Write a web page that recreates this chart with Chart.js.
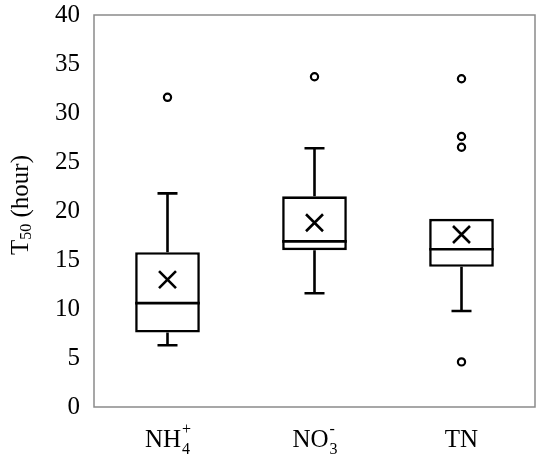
<!DOCTYPE html>
<html>
<head>
<meta charset="utf-8">
<script src="https://cdn.jsdelivr.net/npm/chart.js@4"></script>
<style>
html,body{margin:0;padding:0;background:#fff;}
#wrap{width:550px;height:466px;}
</style>
</head>
<body>
<div id="wrap"><canvas id="c" width="550" height="466"></canvas></div>
<script>
const categories = ['NH4+', 'NO3-', 'TN'];
const labelBase = ['NH', 'NO', 'TN'];
const labelSub = ['4', '3', ''];
const labelSup = ['+', '-', ''];
const whiskerLow = [6.3, 11.6, 9.8];
const q1 = [7.6, 16.0, 14.3];
const median = [10.6, 16.9, 16.1];
const q3 = [15.8, 21.5, 19.2];
const whiskerHigh = [21.8, 26.4, 19.2];
const means = [13.0, 18.8, 17.6];
const outliers = [[31.6], [33.7], [33.5, 27.6, 26.5, 4.6]];
const yTicks = [0, 5, 10, 15, 20, 25, 30, 35, 40];

const FONT = '"Liberation Serif", "Times New Roman", serif';
const LW = 2.6;

const boxData = categories.map((c, i) => [q1[i], q3[i]]);
const meanData = categories.map((c, i) => ({x: c, y: means[i]}));
const outlierData = [];
outliers.forEach((arr, i) => arr.forEach(v => outlierData.push({x: categories[i], y: v})));

const boxPlugin = {
  id: 'boxParts',
  beforeDatasetsDraw(chart) {
    const {ctx, scales: {x, y}} = chart;
    ctx.save();
    ctx.strokeStyle = '#000';
    ctx.lineWidth = LW;
    ctx.lineCap = 'butt';
    categories.forEach((c, i) => {
      const cx = x.getPixelForValue(i);
      const capHalf = 10;
      ctx.beginPath();
      ctx.moveTo(cx, y.getPixelForValue(q1[i]));
      ctx.lineTo(cx, y.getPixelForValue(whiskerLow[i]));
      ctx.moveTo(cx - capHalf, y.getPixelForValue(whiskerLow[i]));
      ctx.lineTo(cx + capHalf, y.getPixelForValue(whiskerLow[i]));
      ctx.stroke();
      if (whiskerHigh[i] > q3[i]) {
        ctx.beginPath();
        ctx.moveTo(cx, y.getPixelForValue(q3[i]));
        ctx.lineTo(cx, y.getPixelForValue(whiskerHigh[i]));
        ctx.moveTo(cx - capHalf, y.getPixelForValue(whiskerHigh[i]));
        ctx.lineTo(cx + capHalf, y.getPixelForValue(whiskerHigh[i]));
        ctx.stroke();
      }
    });
    ctx.restore();
  },
  afterDatasetDraw(chart, args) {
    if (args.index !== 0) return;
    const {ctx, scales: {y}} = chart;
    const meta = chart.getDatasetMeta(0);
    ctx.save();
    ctx.strokeStyle = '#000';
    ctx.lineWidth = LW;
    meta.data.forEach((bar, i) => {
      const half = bar.width / 2;
      const my = y.getPixelForValue(median[i]);
      ctx.beginPath();
      ctx.moveTo(bar.x - half, my);
      ctx.lineTo(bar.x + half, my);
      ctx.stroke();
    });
    ctx.restore();
  },
  afterDraw(chart) {
    const {ctx, chartArea: a, scales: {x}} = chart;
    ctx.save();
    ctx.strokeStyle = '#8a8a8a';
    ctx.lineWidth = 1.5;
    ctx.strokeRect(a.left, a.top, a.right - a.left, a.bottom - a.top);
    ctx.fillStyle = '#000';
    ctx.textBaseline = 'alphabetic';
    categories.forEach((c, i) => {
      const cx = x.getPixelForValue(i);
      const baseY = 447;
      ctx.font = '25px ' + FONT;
      const wb = ctx.measureText(labelBase[i]).width;
      ctx.font = '16px ' + FONT;
      const ws = Math.max(ctx.measureText(labelSub[i]).width, ctx.measureText(labelSup[i]).width);
      const total = wb + ws;
      let sx = cx - total / 2;
      ctx.textAlign = 'left';
      ctx.font = '25px ' + FONT;
      ctx.fillText(labelBase[i], sx, baseY);
      ctx.font = '16px ' + FONT;
      if (labelSub[i]) ctx.fillText(labelSub[i], sx + wb + 1, baseY + 7);
      if (labelSup[i]) ctx.fillText(labelSup[i], sx + wb + 1, baseY - 13);
    });
    ctx.translate(21, 205);
    ctx.rotate(-Math.PI / 2);
    ctx.font = '25px ' + FONT;
    const p1 = 'T', p2 = '50', p3 = ' (hour)';
    const w1 = ctx.measureText(p1).width;
    const w3 = ctx.measureText(p3).width;
    ctx.font = '16px ' + FONT;
    const w2 = ctx.measureText(p2).width;
    let tx = -(w1 + w2 + w3) / 2;
    ctx.textAlign = 'left';
    ctx.textBaseline = 'middle';
    ctx.font = '25px ' + FONT;
    ctx.fillText(p1, tx, 0);
    ctx.font = '16px ' + FONT;
    ctx.fillText(p2, tx + w1, 6);
    ctx.font = '25px ' + FONT;
    ctx.fillText(p3, tx + w1 + w2, 0);
    ctx.restore();
  }
};

new Chart(document.getElementById('c'), {
  data: {
    labels: categories,
    datasets: [
      {
        type: 'bar',
        data: boxData,
        backgroundColor: '#ffffff',
        borderColor: '#000000',
        borderWidth: LW,
        borderSkipped: false,
        barPercentage: 0.44,
        categoryPercentage: 1.0,
        order: 3
      },
      {
        type: 'line',
        data: meanData,
        showLine: false,
        pointStyle: 'crossRot',
        pointRadius: 12,
        pointBorderWidth: 2.6,
        pointBorderColor: '#000',
        pointBackgroundColor: '#000',
        order: 1
      },
      {
        type: 'line',
        data: outlierData,
        showLine: false,
        pointStyle: 'circle',
        pointRadius: 3.6,
        pointBorderWidth: 2.2,
        pointBorderColor: '#000',
        pointBackgroundColor: '#fff',
        order: 2
      }
    ]
  },
  options: {
    responsive: false,
    animation: false,
    devicePixelRatio: 1,
    layout: {padding: {top: 15, right: 15, left: 0, bottom: 0}},
    plugins: {legend: {display: false}, tooltip: {enabled: false}},
    scales: {
      x: {
        type: 'category',
        offset: true,
        grid: {display: false},
        border: {display: false},
        ticks: {display: false},
        afterFit(s) { s.height = 59; s.paddingLeft = 0; s.paddingRight = 0; }
      },
      y: {
        min: 0, max: 40,
        afterBuildTicks(s) { s.ticks = yTicks.map(v => ({value: v})); },
        grid: {display: false, drawTicks: false},
        border: {display: false},
        ticks: {
          color: '#000',
          padding: 14,
          font: {family: FONT, size: 25}
        },
        afterFit(s) { s.width = 94; s.paddingTop = 0; s.paddingBottom = 0; }
      }
    }
  },
  plugins: [boxPlugin]
});
</script>
</body>
</html>
